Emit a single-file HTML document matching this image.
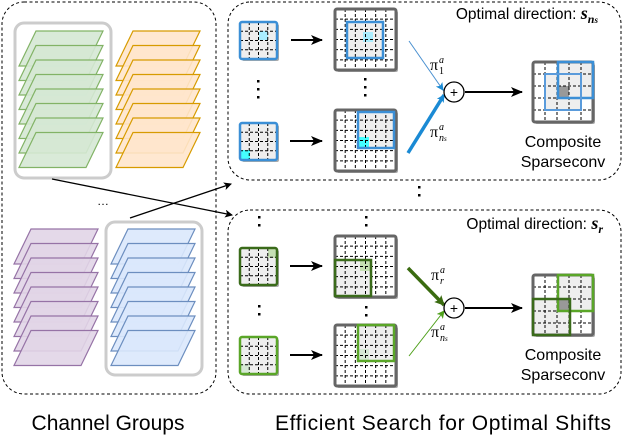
<!DOCTYPE html>
<html><head><meta charset="utf-8"><style>
html,body{margin:0;padding:0;background:#fff;width:624px;height:436px;overflow:hidden}
svg{display:block;font-family:"Liberation Sans",sans-serif}
</style></head><body>
<svg id="s" width="624" height="436" viewBox="0 0 624 436" xmlns="http://www.w3.org/2000/svg">
<defs>
<marker id="ab" markerWidth="8" markerHeight="8" refX="7" refY="4" orient="auto" markerUnits="userSpaceOnUse"><path d="M0,0 L8,4 L0,8 L2,4 z" fill="#000"/></marker>
<marker id="abl" markerWidth="12" markerHeight="10" refX="11" refY="5" orient="auto" markerUnits="userSpaceOnUse"><path d="M0,0 L12,5 L0,10 L3,5 z" fill="#000"/></marker>
<marker id="mb" markerWidth="8" markerHeight="8" refX="7" refY="4" orient="auto" markerUnits="userSpaceOnUse"><path d="M0,0 L8,4 L0,8 L2,4 z" fill="#1a8ad4"/></marker>
<marker id="mg" markerWidth="10" markerHeight="10" refX="9" refY="5" orient="auto" markerUnits="userSpaceOnUse"><path d="M0,0 L10,5 L0,10 L2,5 z" fill="#3a6b10"/></marker>
<marker id="mg2" markerWidth="8" markerHeight="8" refX="7" refY="4" orient="auto" markerUnits="userSpaceOnUse"><path d="M0,0 L8,4 L0,8 L2,4 z" fill="#4ea01a"/></marker>
</defs>
<rect x="2" y="2" width="214" height="392" rx="22" fill="none" stroke="#000" stroke-dasharray="3,2.5"/>
<rect x="228" y="2" width="393" height="178" rx="22" fill="none" stroke="#000" stroke-dasharray="3,2.5"/>
<rect x="228" y="210" width="393" height="184" rx="22" fill="none" stroke="#000" stroke-dasharray="3,2.5"/>
<rect x="15" y="23" width="96" height="155" rx="9" fill="none" stroke="#ccc" stroke-width="3"/>
<rect x="106" y="222" width="96" height="153" rx="9" fill="none" stroke="#ccc" stroke-width="3"/>
<g id="stacks"></g>
<text x="103" y="205" font-size="12" text-anchor="middle">…</text>
<line x1="52" y1="179" x2="232" y2="215" stroke="#000" stroke-width="1.3" marker-end="url(#ab)"/>
<line x1="130" y1="218" x2="231" y2="184" stroke="#000" stroke-width="1.3" marker-end="url(#ab)"/>
<g id="grids"></g>
<g fill="#000">
<rect x="257" y="80" width="2.5" height="2.5"/><rect x="257" y="88" width="2.5" height="2.5"/><rect x="257" y="96" width="2.5" height="2.5"/>
<rect x="364" y="78" width="2.5" height="2.5"/><rect x="364" y="86" width="2.5" height="2.5"/><rect x="364" y="94" width="2.5" height="2.5"/>
<rect x="418" y="186" width="2.5" height="2.5"/><rect x="418" y="194" width="2.5" height="2.5"/>
<rect x="258" y="216" width="2.5" height="2.5"/><rect x="258" y="224" width="2.5" height="2.5"/>
<rect x="365" y="216" width="2.5" height="2.5"/><rect x="365" y="224" width="2.5" height="2.5"/>
<rect x="258" y="305" width="2.5" height="2.5"/><rect x="258" y="313" width="2.5" height="2.5"/>
<rect x="365" y="306" width="2.5" height="2.5"/><rect x="365" y="314" width="2.5" height="2.5"/>
</g>
<g stroke="#000" stroke-width="2">
<line x1="291" y1="40" x2="322" y2="40" marker-end="url(#abl)"/>
<line x1="290" y1="141" x2="322" y2="141" marker-end="url(#abl)"/>
<line x1="290" y1="266" x2="322" y2="266" marker-end="url(#abl)"/>
<line x1="290" y1="355" x2="322" y2="355" marker-end="url(#abl)"/>
<line x1="465" y1="92" x2="522" y2="92" marker-end="url(#abl)"/>
<line x1="465" y1="308" x2="522" y2="308" marker-end="url(#abl)"/>
</g>
<line x1="409" y1="41" x2="443" y2="90" stroke="#4a90d0" stroke-width="1" marker-end="url(#mb)"/>
<line x1="408" y1="153" x2="444" y2="95" stroke="#1a8ad4" stroke-width="3.5" marker-end="url(#mb)"/>
<line x1="408" y1="268" x2="444" y2="305" stroke="#3a6b10" stroke-width="3.5" marker-end="url(#mg)"/>
<line x1="409" y1="356" x2="444" y2="311" stroke="#4ea01a" stroke-width="1" marker-end="url(#mg2)"/>
<circle cx="454" cy="92" r="10" fill="#fff" stroke="#000" stroke-width="1.3"/>
<text x="454" y="97" font-size="14" text-anchor="middle">+</text>
<circle cx="454" cy="308" r="10" fill="#fff" stroke="#000" stroke-width="1.3"/>
<text x="454" y="313" font-size="14" text-anchor="middle">+</text>
<g font-family="Liberation Serif,serif" font-size="16">
<text x="430" y="70">π</text><text x="439" y="63" font-size="10" font-style="italic">a</text><text x="439" y="74" font-size="10">1</text>
<text x="430" y="137">π</text><text x="439" y="130" font-size="10" font-style="italic">a</text><text x="439" y="141" font-size="10" font-style="italic">n<tspan font-size="7">s</tspan></text>
<text x="431" y="280">π</text><text x="440" y="273" font-size="10" font-style="italic">a</text><text x="440" y="284" font-size="10" font-style="italic">r</text>
<text x="431" y="337">π</text><text x="440" y="330" font-size="10" font-style="italic">a</text><text x="440" y="341" font-size="10" font-style="italic">n<tspan font-size="7">s</tspan></text>
</g>
<g font-size="15.5" text-anchor="end">
<text x="598" y="19">Optimal direction: <tspan font-family="Liberation Serif,serif" font-weight="bold" font-style="italic" font-size="18">s</tspan><tspan font-family="Liberation Serif,serif" font-weight="bold" font-style="italic" font-size="12" dy="4">n<tspan font-size="9">s</tspan></tspan></text>
<text x="603" y="229">Optimal direction: <tspan font-family="Liberation Serif,serif" font-weight="bold" font-style="italic" font-size="18">s</tspan><tspan font-family="Liberation Serif,serif" font-weight="bold" font-style="italic" font-size="12" dy="4">r</tspan></text>
</g>
<g font-size="16" text-anchor="middle">
<text x="563" y="147">Composite</text><text x="563" y="167">Sparseconv</text>
<text x="563" y="360">Composite</text><text x="563" y="380">Sparseconv</text>
</g>
<g font-size="21" text-anchor="middle">
<text x="108" y="430">Channel Groups</text>
<text x="443" y="430" textLength="336">Efficient Search for Optimal Shifts</text>
</g>
</svg>
<script>
var NS="http://www.w3.org/2000/svg";
function el(p,t,a){var e=document.createElementNS(NS,t);for(var k in a)e.setAttribute(k,a[k]);p.appendChild(e);return e;}
var st=document.getElementById("stacks");
function stack(x,y,fill,stroke){
 for(var i=0;i<8;i++){var yy=y+i*14.5;
  el(st,"polygon",{points:(x+17)+","+yy+" "+(x+84)+","+yy+" "+(x+67)+","+(yy+35)+" "+x+","+(yy+35),fill:fill,"fill-opacity":"0.9",stroke:stroke,"stroke-width":"1.2"});}
}
stack(19,31,"#d5e8d4","#82b366");
stack(116,31,"#ffe6cc","#d79b00");
stack(14,229,"#e1d5e7","#9673a6");
stack(111,229,"#dae8fc","#6c8ebf");
var g=document.getElementById("grids");
function grid(x,y,s,n,border,bw,bg,shadow){
 if(shadow)el(g,"rect",{x:x+2,y:y+2,width:s,height:s,rx:2,fill:"#aaa"});
 el(g,"rect",{x:x,y:y,width:s,height:s,rx:2,fill:bg});
 return function(){
 var c=s/n;
 for(var i=1;i<n;i++){
  el(g,"line",{x1:x+i*c,y1:y,x2:x+i*c,y2:y+s,stroke:"#000","stroke-width":1,"stroke-dasharray":"3,2"});
  el(g,"line",{x1:x,y1:y+i*c,x2:x+s,y2:y+i*c,stroke:"#000","stroke-width":1,"stroke-dasharray":"3,2"});
 }
 el(g,"rect",{x:x,y:y,width:s,height:s,rx:2,fill:"none",stroke:border,"stroke-width":bw});};
}
function r(x,y,w,h,f,s,sw){el(g,"rect",{x:x,y:y,width:w,height:h,fill:f,stroke:s||"none","stroke-width":sw||0});}
var B="#3b8fd6",G1="#3a6b1a",G2="#5aa628",GR="#666";
var d;
d=grid(240,22,37,4,B,2.5,"#eee",1);r(259,31,9,9,"#aef");d();
d=grid(335,9,61,6,GR,3,"#fff",1);r(347,22,36,36,"#eee");r(363,32,10,10,"#aef");d();r(347,22,36,36,"none",B,2.5);
d=grid(240,123,37,4,B,2.5,"#eee",1);r(241,150,9,9,"#4ff");d();
d=grid(335,110,61,6,GR,3,"#fff",1);r(358,112,36,36,"#eee");r(358,137,11,11,"#4ff");d();r(358,112,36,36,"none",B,2.5);
d=grid(533,62,60,5,GR,3,"#fff",1);r(558,62,35,36,"#eee");r(545,74,36,36,"#eee");r(558,86,11,11,"#999");d();r(558,62,35,36,"none",B,2.5);r(545,74,36,36,"none","#5a9bdb",2);
d=grid(240,248,37,4,G1,2.5,"#eee",1);r(268,249,9,9,"#c6e0b4");d();
d=grid(335,236,61,6,GR,3,"#fff",1);r(335,260,36,36,"#eee");r(360,261,10,10,"#c6e0b4");d();r(335,260,36,36,"none",G1,2.5);
d=grid(240,337,37,4,G2,2.5,"#eee",1);r(241,364,9,10,"#d5e8d4");d();
d=grid(335,325,61,6,GR,3,"#fff",1);r(358,325,36,36,"#eee");r(358,349,11,11,"#d5e8d4");d();r(358,325,36,36,"none",G2,2.5);
d=grid(533,275,60,5,GR,3,"#fff",1);r(558,275,35,36,"#eee");r(533,299,37,36,"#eee");r(558,299,11,11,"#999");d();r(558,275,35,36,"none",G2,2.5);r(533,299,37,36,"none",G1,2.5);
</script>
</body></html>
